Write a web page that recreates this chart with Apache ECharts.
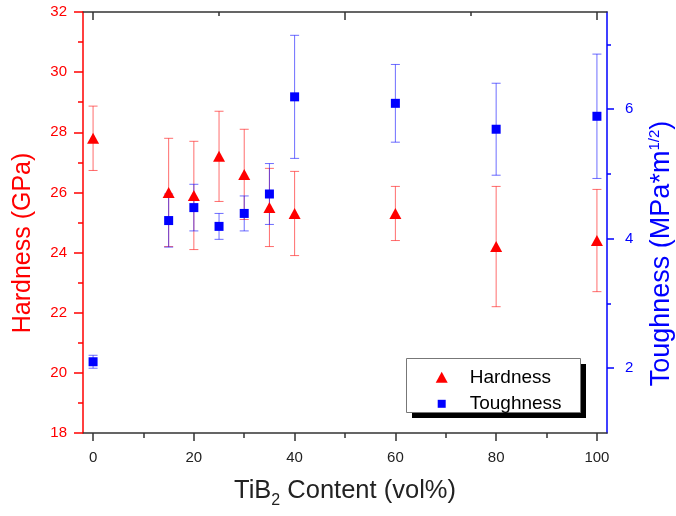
<!DOCTYPE html>
<html>
<head>
<meta charset="utf-8">
<script src="https://cdn.jsdelivr.net/npm/echarts@6/dist/echarts.min.js"></script>
<style>html,body{margin:0;padding:0;background:#fff}#chart{width:676px;height:516px}</style>
</head>
<body>
<div id="chart"></div>
<script>
// ---- data ----
const contents = [0, 15, 20, 25, 30, 35, 40, 60, 80, 100];           // TiB2 vol%
const hardness = [27.8, 26.0, 25.9, 27.2, 26.6, 25.5, 25.3, 25.3, 24.2, 24.4]; // GPa
const hardnessErr = [1.07, 1.8, 1.8, 1.5, 1.5, 1.3, 1.4, 0.9, 2.0, 1.7];
const toughness = [2.1, 4.28, 4.48, 4.19, 4.39, 4.69, 6.19, 6.09, 5.69, 5.89]; // MPa*m^1/2
const toughnessErr = [0.1, 0.41, 0.36, 0.2, 0.27, 0.47, 0.95, 0.6, 0.71, 0.96];
const xMajorTicks = [0, 20, 40, 60, 80, 100];
const xMinorTicks = [10, 30, 50, 70, 90];
const topMajorTicks = [0, 50, 100];
const topMinorTicks = [25, 75];
const rightMajorTicks = [2, 4, 6];
const rightMinorTicks = [3, 5, 7];

const FONT = "'Liberation Sans', Arial, sans-serif";
const RED = '#ff0000', BLUE = '#0000ff';

function errSeries(name, yIdx, vals, errs, color) {
  const data = contents.map((c, i) => [c, vals[i] - errs[i], vals[i] + errs[i]]);
  return {
    name: name, type: 'custom', xAxisIndex: 0, yAxisIndex: yIdx, z: 1,
    encode: { x: 0, y: [1, 2] }, data: data, silent: true,
    renderItem: function (params, api) {
      const x = api.value(0);
      const lo = api.coord([x, api.value(1)]);
      const hi = api.coord([x, api.value(2)]);
      const hw = 4.5;
      const st = { stroke: color, lineWidth: 1 };
      return { type: 'group', children: [
        { type: 'line', shape: { x1: hi[0], y1: hi[1], x2: lo[0], y2: lo[1] }, style: st },
        { type: 'line', shape: { x1: hi[0] - hw, y1: hi[1], x2: hi[0] + hw, y2: hi[1] }, style: st },
        { type: 'line', shape: { x1: lo[0] - hw, y1: lo[1], x2: lo[0] + hw, y2: lo[1] }, style: st }
      ]};
    }
  };
}

const chart = echarts.init(document.getElementById('chart'), null, { renderer: 'canvas' });
const hidden = { show: false };
const noLine = { show: false, onZero: false };
chart.setOption({
  animation: false,
  backgroundColor: '#fff',
  textStyle: { fontFamily: FONT },
  grid: { left: 83, right: 69, top: 12, bottom: 83, containLabel: false, outerBoundsMode: 'none' },
  xAxis: [
    { type: 'value', position: 'bottom', min: -2, max: 102,
      axisLine: { onZero: false, lineStyle: { color: '#333', width: 1.5 } },
      axisTick: { customValues: xMajorTicks, length: 8, lineStyle: { color: '#333', width: 1.5 } },
      axisLabel: { customValues: xMajorTicks, fontSize: 15, color: '#222', margin: 17, fontFamily: FONT },
      splitLine: hidden,
      name: '{a|TiB}{sub|2}{a| Content (vol%)}', nameLocation: 'middle', nameGap: 40,
      nameTextStyle: { rich: {
        a: { fontSize: 25.5, color: '#222', fontFamily: FONT, lineHeight: 36 },
        sub: { fontSize: 16, color: '#222', fontFamily: FONT, lineHeight: 12, verticalAlign: 'bottom' }
      } } },
    { type: 'value', position: 'bottom', min: -2, max: 102,
      axisLine: noLine, axisLabel: hidden, splitLine: hidden,
      axisTick: { customValues: xMinorTicks, length: 5, lineStyle: { color: '#333', width: 1.5 } } },
    { type: 'value', position: 'top', min: -2, max: 102,
      axisLine: { onZero: false, lineStyle: { color: '#333', width: 1.5 } }, axisLabel: hidden, splitLine: hidden,
      axisTick: { inside: true, customValues: topMajorTicks, length: 8, lineStyle: { color: '#333', width: 1.5 } } },
    { type: 'value', position: 'top', min: -2, max: 102,
      axisLine: noLine, axisLabel: hidden, splitLine: hidden,
      axisTick: { inside: true, customValues: topMinorTicks, length: 4, lineStyle: { color: '#333', width: 1.5 } } }
  ],
  yAxis: [
    { type: 'value', position: 'left', min: 18, max: 32, interval: 2,
      axisLine: { onZero: false, lineStyle: { color: RED, width: 1.5 } },
      axisTick: { length: 9, lineStyle: { color: RED, width: 1.5 } },
      minorTick: { show: true, splitNumber: 2, length: 5, lineStyle: { color: RED, width: 1.5 } },
      axisLabel: { fontSize: 15, color: RED, margin: 16, fontFamily: FONT },
      splitLine: hidden, minorSplitLine: hidden,
      name: 'Hardness (GPa)', nameLocation: 'middle', nameGap: 47,
      nameTextStyle: { fontSize: 25, color: RED, fontFamily: FONT, padding: [0, 41, 0, 0] } },
    { type: 'value', position: 'right', min: 1, max: 7.5,
      axisLine: { onZero: false, lineStyle: { color: BLUE, width: 1.5 } },
      axisTick: { customValues: rightMajorTicks, length: 7, lineStyle: { color: BLUE, width: 1.5 } },
      axisLabel: { customValues: rightMajorTicks, fontSize: 15, color: BLUE, margin: 18, fontFamily: FONT },
      splitLine: hidden,
      name: '{a|Toughness (MPa*m}{sup|1/2}{a|)}', nameLocation: 'middle', nameGap: 40,
      nameTextStyle: { padding: [0, 62, 0, 0], rich: {
        a: { fontSize: 27, color: BLUE, fontFamily: FONT, lineHeight: 30 },
        sup: { fontSize: 15, color: BLUE, fontFamily: FONT, lineHeight: 15, verticalAlign: 'top' }
      } } },
    { type: 'value', position: 'right', min: 1, max: 7.5,
      axisLine: noLine, axisLabel: hidden, splitLine: hidden,
      axisTick: { customValues: rightMinorTicks, length: 4, lineStyle: { color: BLUE, width: 1.5 } } }
  ],
  legend: [
    { data: ['Hardness'], left: 435.7, top: 367.8, padding: 0, itemWidth: 12, itemHeight: 11,
      selectedMode: false, z: 20, icon: 'triangle',
      textStyle: { fontSize: 19, color: '#000', fontFamily: FONT, padding: [0, 0, 0, 17] } },
    { data: ['Toughness'], left: 437.7, top: 394.3, padding: 0, itemWidth: 8, itemHeight: 8,
      selectedMode: false, z: 20, icon: 'rect',
      textStyle: { fontSize: 19, color: '#000', fontFamily: FONT, padding: [0, 0, 0, 19] } }
  ],
  graphic: [
    { type: 'rect', left: 412, top: 364, z: 9,
      shape: { width: 174, height: 54 },
      style: { fill: '#000', stroke: null } },
    { type: 'rect', left: 406, top: 358, z: 10,
      shape: { width: 174, height: 54 },
      style: { fill: '#fff', stroke: '#777', lineWidth: 1 } }
  ],
  series: [
    errSeries('HardnessErr', 0, hardness, hardnessErr, 'rgba(255,30,30,0.65)'),
    errSeries('ToughnessErr', 1, toughness, toughnessErr, 'rgba(30,30,255,0.65)'),
    { name: 'Hardness', type: 'scatter', xAxisIndex: 0, yAxisIndex: 0, z: 3,
      symbol: 'triangle', symbolSize: [12, 11], itemStyle: { color: RED, opacity: 1 },
      data: contents.map((c, i) => [c, hardness[i]]) },
    { name: 'Toughness', type: 'scatter', xAxisIndex: 0, yAxisIndex: 1, z: 3,
      symbol: 'rect', symbolSize: 9, itemStyle: { color: BLUE, opacity: 1 },
      data: contents.map((c, i) => [c, toughness[i]]) }
  ]
});
</script>
</body>
</html>
